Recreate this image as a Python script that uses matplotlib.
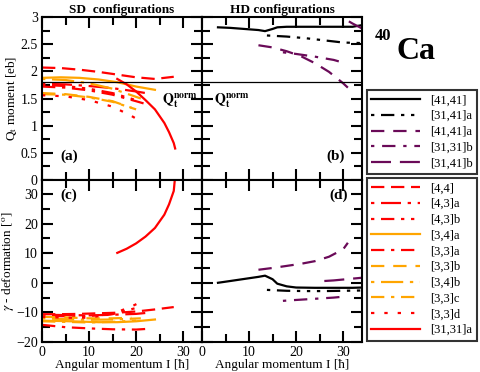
import numpy as np
import matplotlib
matplotlib.use("Agg")
import matplotlib.pyplot as plt
from matplotlib.ticker import MultipleLocator

plt.rcParams['font.family'] = ['Liberation Serif', 'DejaVu Serif']
plt.rcParams['mathtext.fontset'] = 'stix'

# ---- data ----
# SD configurations: (label, I, Qt, gamma)
sd_labels = ["[4,4]", "[4,3]a", "[4,3]b", "[3,4]a", "[3,3]a",
             "[3,3]b", "[3,4]b", "[3,3]c", "[3,3]d", "[31,31]a"]
sd_I = [
    [0, 4, 8, 12, 16, 20, 24, 28],
    [0, 5, 10, 15, 20, 22],
    [0, 5, 10, 15, 20],
    [0, 4, 8, 12, 16, 20, 24],
    [0, 5, 10, 15, 20, 22],
    [0, 5, 10, 15, 19],
    [0, 5, 10, 15, 21],
    [0, 5, 10, 15, 20],
    [0, 5, 10, 15, 19, 21],
    [16, 18, 20, 22, 24, 26, 27, 28, 28.3],
]
sd_Q = [
    [2.07, 2.06, 2.03, 1.99, 1.94, 1.89, 1.86, 1.90],
    [1.77, 1.76, 1.73, 1.69, 1.63, 1.60],
    [1.75, 1.73, 1.68, 1.60, 1.47],
    [1.88, 1.89, 1.88, 1.85, 1.80, 1.72, 1.66],
    [1.72, 1.70, 1.65, 1.57, 1.45, 1.40],
    [1.60, 1.58, 1.53, 1.45, 1.33],
    [1.86, 1.84, 1.78, 1.68, 1.50],
    [1.58, 1.57, 1.52, 1.44, 1.30],
    [1.56, 1.54, 1.47, 1.35, 1.18, 1.08],
    [1.86, 1.76, 1.63, 1.47, 1.30, 1.05, 0.88, 0.68, 0.58],
]
sd_gamma = [
    [-10.6, -10.6, -10.5, -10.3, -10.1, -9.7, -9.0, -8.2],
    [-10.8, -10.9, -11.0, -10.8, -10.5, -10.2],
    [-11.2, -11.3, -11.2, -10.6, -8.5],
    [-12.8, -12.9, -13.1, -13.3, -13.3, -13.0, -12.4],
    [-14.2, -15.0, -15.4, -15.7, -15.8, -15.6],
    [-11.5, -11.7, -12.0, -12.0, -11.8],
    [-12.0, -12.3, -12.5, -12.4, -12.0],
    [-13.0, -13.2, -13.4, -13.2, -12.8],
    [-11.5, -11.8, -11.8, -10.5, -8.0, -6.5],
    [10.1, 11.5, 13.3, 15.6, 18.5, 23.0, 26.5, 31.0, 36.0],
]

# HD configurations
hd_labels = ["[41,41]", "[31,41]a", "[41,41]a", "[31,31]b", "[31,41]b"]
hd_I = [
    [3.4, 6, 9, 12, 13.4, 15, 16, 18, 20, 24, 28, 32, 34],
    [13.8, 18, 22, 26, 30, 34],
    [12, 15, 18, 21, 24, 27, 30, 31],
    [17.2, 20, 24, 28, 30],
    [26, 28, 30, 32, 34],
]
hd_Q = [
    [2.81, 2.80, 2.78, 2.76, 2.74, 2.78, 2.81, 2.82, 2.82, 2.82, 2.82, 2.82, 2.85],
    [2.66, 2.64, 2.61, 2.57, 2.53, 2.52],
    [2.48, 2.44, 2.37, 2.28, 2.15, 1.99, 1.78, 1.70],
    [2.35, 2.32, 2.27, 2.21, 2.16],
    [3.20, 3.10, 2.98, 2.88, 2.79],
]
hd_gamma = [
    [0.0, 0.6, 1.3, 2.0, 2.4, 1.2, -0.3, -1.2, -1.6, -1.7, -1.7, -1.7, -1.6],
    [-2.4, -2.7, -2.8, -2.8, -2.7, -2.6],
    [4.4, 5.0, 5.7, 6.4, 7.3, 8.8, 11.3, 13.5],
    [-6.1, -5.8, -5.4, -5.0, -4.7],
    [0.6, 0.8, 1.1, 1.4, 1.7],
]

Q_norm = 1.8

# ---- styles ----
red, orange, purple = '#ff0000', '#ffa500', '#6a0a58'
sd_styles = [
    (red, (0, (6, 3))),
    (red, (0, (1.5, 3, 9, 3))),
    (red, (0, (1.5, 3, 6, 3, 1.5, 3, 1.5, 3))),
    (orange, '-'),
    (red, (0, (6, 3, 1.5, 3))),
    (orange, (0, (6, 4))),
    (orange, (0, (1.5, 3, 10, 3))),
    (orange, (0, (6, 3, 1.5, 3))),
    (red, (0, (1.5, 4.5))),
    (red, '-'),
]
hd_styles = [
    ('black', '-'),
    ('black', (0, (1.5, 3, 6, 3, 1.5, 3, 1.5, 3))),
    (purple, (0, (6, 4))),
    (purple, (0, (1.5, 3.5, 6, 3.5))),
    (purple, (0, (9, 4))),
]

fig = plt.figure(figsize=(4.8, 3.72), dpi=100)
ax_a = fig.add_axes([0.0875, 0.5161, 0.3333, 0.4382])
ax_b = fig.add_axes([0.4208, 0.5161, 0.3333, 0.4382])
ax_c = fig.add_axes([0.0875, 0.0806, 0.3333, 0.4355])
ax_d = fig.add_axes([0.4208, 0.0806, 0.3333, 0.4355])

lw = 1.6
sd_handles = []
for i in range(len(sd_labels)):
    c, ls = sd_styles[i]
    h, = ax_a.plot(sd_I[i], sd_Q[i], color=c, ls=ls, lw=lw, label=sd_labels[i])
    ax_c.plot(sd_I[i], sd_gamma[i], color=c, ls=ls, lw=lw)
    sd_handles.append(h)

hd_handles = []
for i in range(len(hd_labels)):
    c, ls = hd_styles[i]
    h, = ax_b.plot(hd_I[i], hd_Q[i], color=c, ls=ls, lw=lw, label=hd_labels[i])
    ax_d.plot(hd_I[i], hd_gamma[i], color=c, ls=ls, lw=lw)
    hd_handles.append(h)

for ax in (ax_a, ax_b):
    ax.axhline(Q_norm, color='black', lw=0.9)
    ax.set_ylim(0, 3)
    ax.yaxis.set_major_locator(MultipleLocator(0.5))
    ax.yaxis.set_minor_locator(MultipleLocator(0.25))
    ax.tick_params(labelbottom=False)
for ax in (ax_c, ax_d):
    ax.set_ylim(-20, 34.7)
    ax.yaxis.set_major_locator(MultipleLocator(10))
    ax.yaxis.set_minor_locator(MultipleLocator(5))
    ax.set_xlabel("Angular momentum I [ħ]", fontsize=9.5, labelpad=0)
for ax in (ax_a, ax_b, ax_c, ax_d):
    ax.set_xlim(0, 34)
    ax.xaxis.set_major_locator(MultipleLocator(10))
    ax.xaxis.set_minor_locator(MultipleLocator(5))
    ax.tick_params(which='both', direction='in', top=True, right=True,
                   width=1.5, labelsize=10, pad=3)
    ax.tick_params(which='major', length=8)
    ax.tick_params(which='minor', length=6)
    for s in ax.spines.values():
        s.set_linewidth(1.5)
for ax in (ax_b, ax_d):
    ax.tick_params(labelleft=False)

ax_a.set_yticks([0, 0.5, 1, 1.5, 2, 2.5, 3])
ax_a.set_yticklabels(['0', '0.5', '1', '1.5', '2', '2.5', '3'])
ax_a.set_ylabel(r"Q$_{\rm t}$ moment [eb]", fontsize=9.5, labelpad=1)
ax_c.set_ylabel(r"$\gamma$ - deformation [$^{\rm o}$]", fontsize=9.5, labelpad=0)

ax_a.set_title("SD  configurations", fontsize=9.5, fontweight='bold', pad=3)
ax_b.set_title("HD configurations", fontsize=9.5, fontweight='bold', pad=3)

qn = r"$\mathbf{Q_t^{norm}}$"
ax_a.text(25.5, 1.47, qn, fontsize=10, va='center')
ax_b.text(2.5, 1.47, qn, fontsize=10, va='center')

pk = dict(fontsize=11, fontweight='bold')
ax_a.text(3.8, 0.38, "(a)", **pk)
ax_b.text(26.5, 0.38, "(b)", **pk)
ax_c.text(3.8, 28.5, "(c)", **pk)
ax_d.text(27.0, 28.5, "(d)", **pk)

fig.text(375 / 480, 1 - 40 / 372, "40", fontsize=12, fontweight='bold')
fig.text(396 / 480, 1 - 59 / 372, "Ca", fontsize=23, fontweight='bold')

leg_kw = dict(loc='upper left', fontsize=9, frameon=True, fancybox=False,
              edgecolor='black', handlelength=3.9, labelspacing=0.3,
              borderaxespad=0, borderpad=0.35, handletextpad=0.8)
leg1 = fig.legend(handles=hd_handles, bbox_to_anchor=(367 / 480, 1 - 90 / 372), **leg_kw)
leg2 = fig.legend(handles=sd_handles, bbox_to_anchor=(367 / 480, 1 - 178 / 372), **leg_kw)
for lg in (leg1, leg2):
    lg.get_frame().set_linewidth(1.5)

fig.savefig("out.png", dpi=100)
